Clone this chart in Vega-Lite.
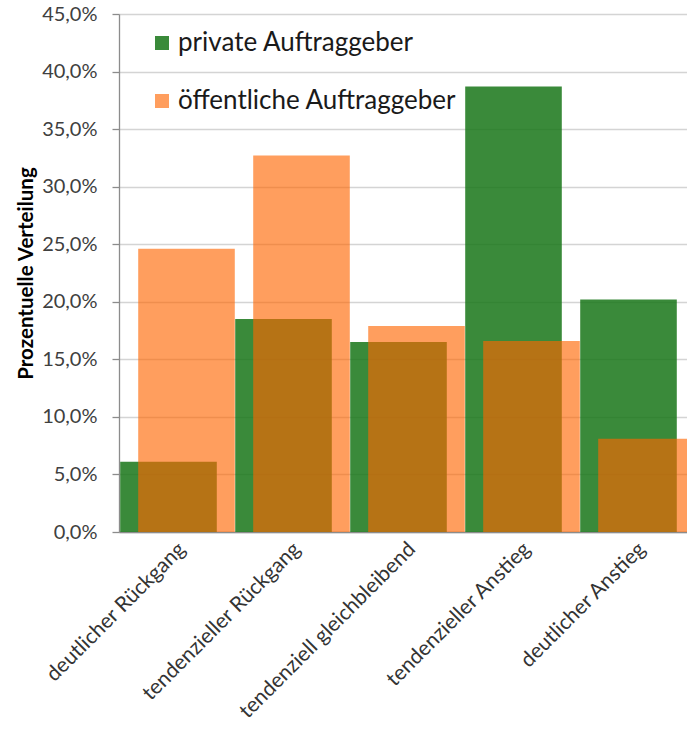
{
  "$schema": "https://vega.github.io/schema/vega-lite/v6.json",
  "autosize": "none",
  "padding": {"left": 119, "top": 14, "right": 0, "bottom": 198},
  "width": 568,
  "height": 518,
  "background": "white",
  "data": {
    "values": [
      {"Kategorie": "deutlicher Rückgang", "Auftraggeber": "private Auftraggeber", "Anteil": 6.1},
      {"Kategorie": "tendenzieller Rückgang", "Auftraggeber": "private Auftraggeber", "Anteil": 18.5},
      {"Kategorie": "tendenziell gleichbleibend", "Auftraggeber": "private Auftraggeber", "Anteil": 16.5},
      {"Kategorie": "tendenzieller Anstieg", "Auftraggeber": "private Auftraggeber", "Anteil": 38.7},
      {"Kategorie": "deutlicher Anstieg", "Auftraggeber": "private Auftraggeber", "Anteil": 20.2},
      {"Kategorie": "deutlicher Rückgang", "Auftraggeber": "öffentliche Auftraggeber", "Anteil": 24.6},
      {"Kategorie": "tendenzieller Rückgang", "Auftraggeber": "öffentliche Auftraggeber", "Anteil": 32.7},
      {"Kategorie": "tendenziell gleichbleibend", "Auftraggeber": "öffentliche Auftraggeber", "Anteil": 17.9},
      {"Kategorie": "tendenzieller Anstieg", "Auftraggeber": "öffentliche Auftraggeber", "Anteil": 16.6},
      {"Kategorie": "deutlicher Anstieg", "Auftraggeber": "öffentliche Auftraggeber", "Anteil": 8.1}
    ]
  },
  "encoding": {
    "x": {
      "field": "Kategorie",
      "type": "nominal",
      "sort": ["deutlicher Rückgang", "tendenzieller Rückgang", "tendenziell gleichbleibend", "tendenzieller Anstieg", "deutlicher Anstieg"],
      "scale": {"paddingInner": 0, "paddingOuter": 0, "range": [0, 575]},
      "axis": {
        "title": null,
        "labelAngle": -45,
        "labelAlign": "right",
        "labelBaseline": "top",
        "labelOffset": -2,
        "labelPadding": 6,
        "ticks": false,
        "tickSize": 0,
        "domainColor": "#8C8C8C",
        "domainWidth": 1.3,
        "labelFont": "Lato",
        "labelFontSize": 21,
        "labelColor": "#333333",
        "labelLimit": 400,
        "grid": false
      }
    },
    "y": {
      "field": "Anteil",
      "type": "quantitative",
      "scale": {"domain": [0, 45], "nice": false},
      "axis": {
        "title": "Prozentuelle Verteilung",
        "titleFont": "Lato",
        "titleFontSize": 20.5,
        "titleFontWeight": "bold",
        "titleColor": "#000000",
        "titlePadding": 5,
        "values": [0, 5, 10, 15, 20, 25, 30, 35, 40, 45],
        "labelExpr": "replace(format(datum.value, '.1f'), '.', ',') + '%'",
        "labelFont": "Lato",
        "labelFontSize": 20,
        "labelColor": "#404040",
        "labelPadding": 15,
        "tickSize": 7,
        "tickColor": "#8C8C8C",
        "tickWidth": 1.3,
        "domainColor": "#8C8C8C",
        "domainWidth": 1.3,
        "gridColor": "#D4D4D4",
        "gridWidth": 1.4
      }
    },
    "color": {
      "field": "Auftraggeber",
      "type": "nominal",
      "scale": {"domain": ["private Auftraggeber", "öffentliche Auftraggeber"], "range": ["#187618", "#FF6500"]},
      "legend": {
        "title": null,
        "orient": "none",
        "legendX": 30,
        "legendY": 16,
        "direction": "vertical",
        "symbolType": "square",
        "symbolSize": 196,
        "symbolStrokeWidth": 0,
        "labelFont": "Lato",
        "labelFontSize": 26,
        "labelColor": "#1A1A1A",
        "labelOffset": 3,
        "labelLimit": 500,
        "rowPadding": 32
      }
    },
    "opacity": {
      "field": "Auftraggeber",
      "type": "nominal",
      "scale": {"domain": ["private Auftraggeber", "öffentliche Auftraggeber"], "range": [0.85, 0.63]},
      "legend": {
        "title": null,
        "orient": "none",
        "legendX": 30,
        "legendY": 16,
        "direction": "vertical",
        "symbolType": "square",
        "symbolSize": 196,
        "symbolStrokeWidth": 0,
        "labelFont": "Lato",
        "labelFontSize": 26,
        "labelColor": "#1A1A1A",
        "labelOffset": 3,
        "labelLimit": 500,
        "rowPadding": 32
      }
    }
  },
  "layer": [
    {
      "transform": [{"filter": "datum.Auftraggeber === 'private Auftraggeber'"}],
      "mark": {"type": "bar", "width": {"band": 0.84}, "xOffset": -8}
    },
    {
      "transform": [{"filter": "datum.Auftraggeber === 'öffentliche Auftraggeber'"}],
      "mark": {"type": "bar", "width": {"band": 0.84}, "xOffset": 10}
    }
  ],
  "config": {
    "view": {"stroke": null},
    "font": "Lato"
  }
}
